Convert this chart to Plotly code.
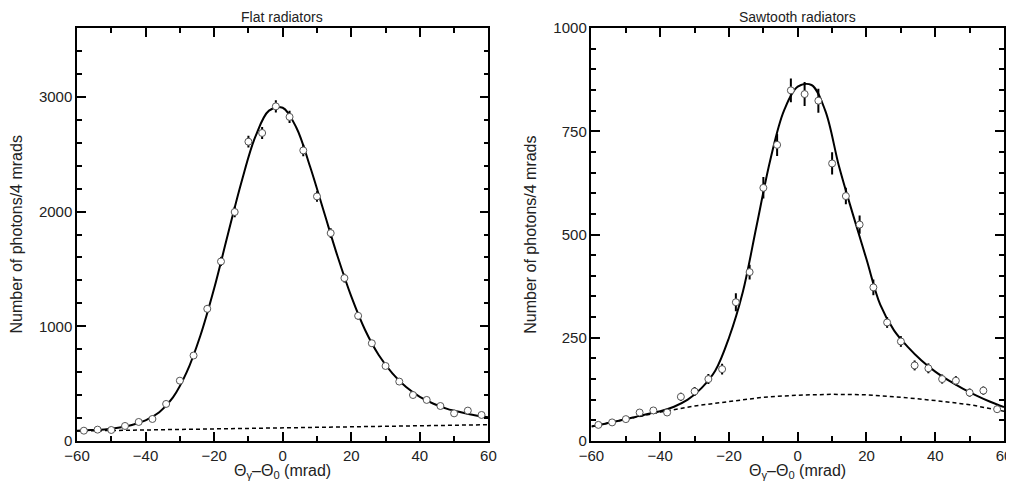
import plotly.graph_objects as go

# measured bins (4 mrad), both panels
theta = [-58, -54, -50, -46, -42, -38, -34, -30, -26, -22, -18, -14, -10, -6, -2,
         2, 6, 10, 14, 18, 22, 26, 30, 34, 38, 42, 46, 50, 54, 58]

flat_counts = [90, 99, 96, 131, 166, 192, 323, 526, 745, 1152, 1565, 1996, 2609, 2685, 2917,
               2825, 2533, 2132, 1812, 1420, 1091, 852, 654, 518, 401, 358, 305, 241, 265, 227]
flat_err = [10, 10, 10, 12, 13, 14, 18, 23, 27, 34, 40, 45, 51, 52, 54,
            53, 50, 46, 42, 38, 33, 29, 26, 23, 20, 19, 17, 16, 16, 15]

saw_counts = [39, 45, 53, 69, 74, 69, 107, 120, 150, 174, 336, 409, 613, 717, 849,
              840, 824, 672, 593, 524, 372, 287, 241, 183, 176, 150, 146, 117, 122, 77]
saw_err = [5, 6, 6, 7, 7, 7, 10, 11, 12, 13, 22, 18, 26, 27, 29,
           29, 29, 27, 20, 22, 19, 13, 13, 12, 12, 11, 11, 10, 10, 9]

# fitted curves
fit_x = [-60, -56, -52, -48, -44, -40, -36, -32, -28, -24, -20, -16, -12, -8, -4, 0,
         4, 8, 12, 16, 20, 24, 28, 32, 36, 40, 44, 48, 52, 56, 60]
flat_fit = [90, 95, 100, 115, 140, 180, 250, 380, 600, 920, 1330, 1800, 2260, 2650, 2880, 2905,
            2730, 2390, 2000, 1610, 1260, 970, 750, 590, 470, 385, 325, 280, 250, 225, 207]
saw_fit = [35, 42, 49, 57, 65, 72, 83, 100, 128, 170, 250, 360, 520, 680, 800, 858,
           862, 800, 665, 550, 440, 330, 268, 228, 195, 168, 146, 127, 110, 95, 82]

bg_x = [-60, -50, -40, -30, -20, -10, 0, 10, 20, 30, 40, 50, 60]
flat_bg = [87, 92, 96, 101, 106, 110, 115, 119, 124, 129, 133, 138, 142]
saw_bg = [35, 52, 70, 85, 96, 106, 111, 113, 112, 106, 98, 88, 72]

FONT = "Liberation Sans, Arial, sans-serif"

fig = go.Figure()

panels = [
    ("x", "y", flat_counts, flat_err, flat_fit, flat_bg),
    ("x2", "y2", saw_counts, saw_err, saw_fit, saw_bg),
]
for xa, ya, counts, err, fit, bg in panels:
    fig.add_trace(go.Scatter(x=bg_x, y=bg, mode="lines", xaxis=xa, yaxis=ya,
                             line=dict(color="black", width=1.5, dash="4px,3px")))
    fig.add_trace(go.Scatter(x=fit_x, y=fit, mode="lines", xaxis=xa, yaxis=ya,
                             line=dict(color="black", width=2, shape="spline", smoothing=1.0)))
    fig.add_trace(go.Scatter(
        x=theta, y=counts, mode="markers", xaxis=xa, yaxis=ya,
        error_y=dict(type="data", array=err, visible=True, width=0, thickness=2, color="black"),
        marker=dict(symbol="circle", size=7, color="white", line=dict(color="#555555", width=1)),
    ))

axis_common = dict(
    showline=True, linecolor="black", linewidth=1.5, mirror="ticks",
    ticks="inside", ticklen=9, tickwidth=1.5, tickcolor="black",
    showgrid=False, zeroline=False,
    tickfont=dict(family=FONT, size=15, color="#222222"),
)
xaxis_common = dict(axis_common, range=[-60, 60], dtick=20, tick0=0,
                    minor=dict(dtick=10, ticks="inside", ticklen=5, tickwidth=1.5, tickcolor="black"))

# figure sized so the page fits the window without scrolling
fig.update_layout(
    width=1006, height=474,
    margin=dict(l=69, r=2, t=20, b=41),
    plot_bgcolor="white", paper_bgcolor="white",
    showlegend=False,
    font=dict(family=FONT, size=15, color="#222222"),
    xaxis=dict(xaxis_common, domain=[0, 0.4438], anchor="y"),
    yaxis=dict(axis_common, range=[0, 3600], dtick=1000, anchor="x",
               minor=dict(dtick=200, ticks="inside", ticklen=5, tickwidth=1.5, tickcolor="black")),
    xaxis2=dict(xaxis_common, domain=[0.555, 1], anchor="y2"),
    yaxis2=dict(axis_common, range=[0, 1000], dtick=250, anchor="x2",
                minor=dict(dtick=50, ticks="inside", ticklen=5, tickwidth=1.5, tickcolor="black")),
)

xtitle = "Θ<sub>γ</sub>–Θ<sub>0</sub> (mrad)"
ytitle = "Number of photons/4 mrads"
notes = [
    (0.2214, 1.026, "Flat radiators", 0, 14),
    (0.7775, 1.026, "Sawtooth radiators", 0, 14),
    (0.2214, -0.075, xtitle, 0, 16),
    (0.7775, -0.075, xtitle, 0, 16),
    (-0.0648, 0.5, ytitle, -90, 16),
    (0.489, 0.5, ytitle, -90, 16),
]
for x, y, text, ang, size in notes:
    fig.add_annotation(x=x, y=y, xref="paper", yref="paper", text=text, showarrow=False,
                       textangle=ang, xanchor="center", yanchor="middle",
                       font=dict(family=FONT, size=size, color="#222222"))

fig.write_html("out.html")
